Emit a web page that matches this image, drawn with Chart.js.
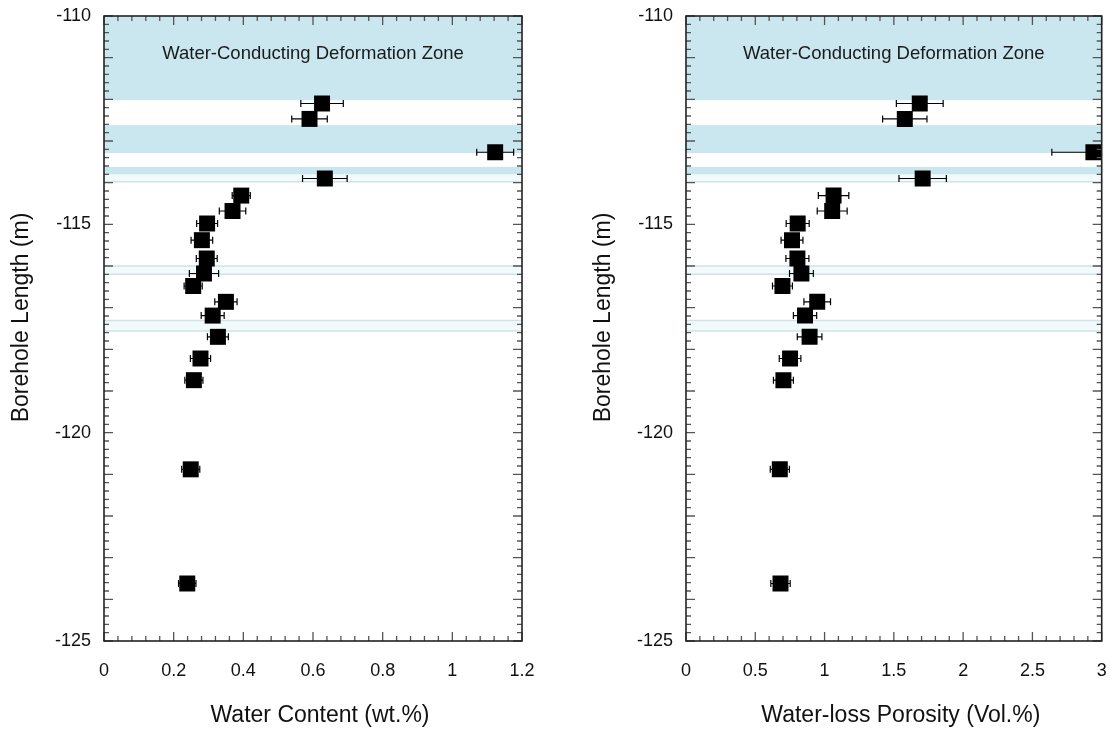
<!DOCTYPE html>
<html>
<head>
<meta charset="utf-8">
<script src="https://cdn.jsdelivr.net/npm/chart.js@4.4.1/dist/chart.umd.min.js"></script>
<style>
  html, body { margin: 0; padding: 0; background: #ffffff; }
  #wrap { position: relative; width: 1113px; height: 731px; overflow: hidden; }
  .panel { position: absolute; top: 0; height: 731px; }
</style>
</head>
<body>
<div id="wrap">
  <div class="panel" style="left:0;width:540px"><canvas id="waterContent"></canvas></div>
  <div class="panel" style="left:560px;width:553px"><canvas id="porosity"></canvas></div>
</div>
<script>
// Sample depths along the borehole (m) shared by both panels
const depth = [-112.10, -112.47, -113.27, -113.90, -114.31, -114.68, -114.98, -115.38, -115.82,
               -116.18, -116.48, -116.86, -117.19, -117.70, -118.22, -118.74, -120.88, -123.62];

// Water content (wt.%) and its uncertainty
const waterContent    = [0.626, 0.590, 1.123, 0.634, 0.394, 0.369, 0.296, 0.281, 0.295,
                         0.287, 0.256, 0.350, 0.312, 0.327, 0.277, 0.258, 0.249, 0.239];
const waterContentErr = [0.061, 0.051, 0.053, 0.064, 0.026, 0.038, 0.030, 0.031, 0.030,
                         0.042, 0.026, 0.032, 0.033, 0.030, 0.029, 0.026, 0.026, 0.025];

// Water-loss porosity (Vol.%) and its uncertainty
const porosity    = [1.687, 1.579, 2.94, 1.708, 1.065, 1.055, 0.806, 0.765, 0.804,
                     0.833, 0.696, 0.947, 0.859, 0.892, 0.751, 0.703, 0.677, 0.682];
const porosityErr = [0.169, 0.160, 0.30, 0.171, 0.110, 0.108, 0.083, 0.079, 0.083,
                     0.086, 0.072, 0.096, 0.084, 0.089, 0.078, 0.072, 0.069, 0.070];

// Water-conducting intervals (top, bottom) in m
const conductingZones = [[-110.0, -112.02], [-112.62, -113.29], [-113.62, -113.78]];
// Narrow fractures (top, bottom) in m
const fractureZones = [[-113.78, -113.98], [-116.0, -116.2], [-117.31, -117.56]];
const zoneLabel = 'Water-Conducting Deformation Zone';

// Tick labels
const depthTicks = [-110, -115, -120, -125];
const waterContentTicks = [0, 0.2, 0.4, 0.6, 0.8, 1, 1.2];
const porosityTicks = [0, 0.5, 1, 1.5, 2, 2.5, 3];

const FONT = '"Liberation Sans", Arial, Helvetica, sans-serif';

// Shaded zones behind the data
const zonesPlugin = {
  id: 'zones',
  beforeDatasetsDraw(chart) {
    const { ctx, chartArea: a, scales: { x, y } } = chart;
    ctx.save();
    ctx.beginPath();
    ctx.rect(a.left, a.top, a.width, a.height);
    ctx.clip();
    ctx.fillStyle = '#cae7ef';
    conductingZones.forEach(([t, b]) => {
      const y1 = y.getPixelForValue(t), y2 = y.getPixelForValue(b);
      ctx.fillRect(a.left, y1, a.width, y2 - y1);
    });
    fractureZones.forEach(([t, b]) => {
      const y1 = y.getPixelForValue(t), y2 = y.getPixelForValue(b);
      ctx.fillStyle = '#f2fafc';
      ctx.fillRect(a.left, y1, a.width, y2 - y1);
      ctx.strokeStyle = '#cfe3e8';
      ctx.lineWidth = 1.5;
      ctx.beginPath();
      ctx.moveTo(a.left, y1); ctx.lineTo(a.right, y1);
      ctx.moveTo(a.left, y2); ctx.lineTo(a.right, y2);
      ctx.stroke();
    });
    ctx.fillStyle = '#1a1a1a';
    ctx.font = '18.5px ' + FONT;
    ctx.textAlign = 'center';
    ctx.textBaseline = 'middle';
    ctx.fillText(zoneLabel, (a.left + a.right) / 2, y.getPixelForValue(-110.92));
    ctx.restore();
  }
};

// Horizontal error bars with end caps
const errorBarsPlugin = {
  id: 'errorBars',
  beforeDatasetsDraw(chart, args, opts) {
    const { ctx, chartArea: a, scales: { x, y } } = chart;
    const vals = opts.values, errs = opts.errors;
    ctx.save();
    ctx.beginPath();
    ctx.rect(a.left, a.top, a.width, a.height);
    ctx.clip();
    ctx.strokeStyle = '#000';
    ctx.lineWidth = 1.2;
    vals.forEach((v, i) => {
      const py = y.getPixelForValue(depth[i]);
      const x1 = x.getPixelForValue(v - errs[i]);
      const x2 = x.getPixelForValue(v + errs[i]);
      ctx.beginPath();
      ctx.moveTo(x1, py); ctx.lineTo(x2, py);
      ctx.moveTo(x1, py - 3.5); ctx.lineTo(x1, py + 3.5);
      ctx.moveTo(x2, py - 3.5); ctx.lineTo(x2, py + 3.5);
      ctx.stroke();
    });
    ctx.restore();
  }
};

// Boxed frame with inward tick marks on all four sides
const framePlugin = {
  id: 'frame',
  afterDraw(chart, args, opts) {
    const { ctx, chartArea: a, scales: { x, y } } = chart;
    ctx.save();
    ctx.strokeStyle = '#555';
    ctx.lineWidth = 1.3;
    ctx.beginPath();
    // depth ticks: minor every 0.2 m, major every 1 m
    const nY = Math.round((y.max - y.min) / 0.2);
    for (let i = 0; i <= nY; i++) {
      const py = y.getPixelForValue(y.min + i * 0.2);
      const len = (i % 5 === 0) ? 9 : 5;
      ctx.moveTo(a.left, py); ctx.lineTo(a.left + len, py);
      ctx.moveTo(a.right, py); ctx.lineTo(a.right - len, py);
    }
    const nX = Math.round((x.max - x.min) / opts.minor);
    const per = Math.round(opts.major / opts.minor);
    for (let i = 0; i <= nX; i++) {
      const px = x.getPixelForValue(x.min + i * opts.minor);
      const len = (i % per === 0) ? 9 : 5;
      ctx.moveTo(px, a.bottom); ctx.lineTo(px, a.bottom - len);
      ctx.moveTo(px, a.top); ctx.lineTo(px, a.top + len);
    }
    ctx.stroke();
    ctx.strokeStyle = '#222';
    ctx.lineWidth = 1.6;
    ctx.strokeRect(a.left, a.top, a.width, a.height);

    // axis titles
    ctx.fillStyle = '#111';
    ctx.font = '23px ' + FONT;
    ctx.textAlign = 'center';
    ctx.textBaseline = 'middle';
    ctx.fillText(opts.xTitle, (a.left + a.right) / 2 + 7, 716);
    ctx.translate(a.left - 82, (a.top + a.bottom) / 2 - 11);
    ctx.rotate(-Math.PI / 2);
    ctx.fillText(opts.yTitle, 0, 0);
    ctx.restore();
  }
};

function makeChart(id, values, errors, xTicks, xMax, minor, major, xTitle, yWidth, rightPad) {
  return new Chart(document.getElementById(id), {
    type: 'scatter',
    data: {
      datasets: [{
        data: values.map((v, i) => ({ x: v, y: depth[i] })),
        pointStyle: 'rect',
        pointRadius: 11.3,
        pointHoverRadius: 11.3,
        backgroundColor: '#000',
        borderColor: '#000',
        borderWidth: 0,
        clip: 0
      }]
    },
    options: {
      responsive: true,
      maintainAspectRatio: false,
      animation: false,
      events: [],
      layout: { padding: { top: 16, right: rightPad, bottom: 0, left: 0 } },
      plugins: {
        legend: { display: false },
        tooltip: { enabled: false },
        errorBars: { values: values, errors: errors },
        frame: { minor: minor, major: major, xTitle: xTitle, yTitle: 'Borehole Length (m)' }
      },
      scales: {
        x: {
          type: 'linear',
          min: 0, max: xMax,
          afterBuildTicks: s => { s.ticks = xTicks.map(v => ({ value: v })); },
          afterFit: s => { s.height = 90; s.paddingLeft = 0; s.paddingRight = 0; },
          grid: { display: false, drawTicks: false },
          border: { display: false },
          ticks: { color: '#111', padding: 19, font: { family: FONT, size: 18 },
                   callback: v => String(v) }
        },
        y: {
          type: 'linear',
          min: -125, max: -110,
          afterBuildTicks: s => { s.ticks = depthTicks.map(v => ({ value: v })); },
          afterFit: s => { s.width = yWidth; s.paddingTop = 0; s.paddingBottom = 0; },
          grid: { display: false, drawTicks: false },
          border: { display: false },
          ticks: { color: '#111', padding: 13, font: { family: FONT, size: 18 },
                   callback: v => String(v) }
        }
      }
    },
    plugins: [zonesPlugin, errorBarsPlugin, framePlugin]
  });
}

makeChart('waterContent', waterContent, waterContentErr, waterContentTicks, 1.2, 0.04, 0.2,
          'Water Content (wt.%)', 104, 18);
makeChart('porosity', porosity, porosityErr, porosityTicks, 3, 0.1, 0.5,
          'Water-loss Porosity (Vol.%)', 126, 9);
</script>
</body>
</html>
